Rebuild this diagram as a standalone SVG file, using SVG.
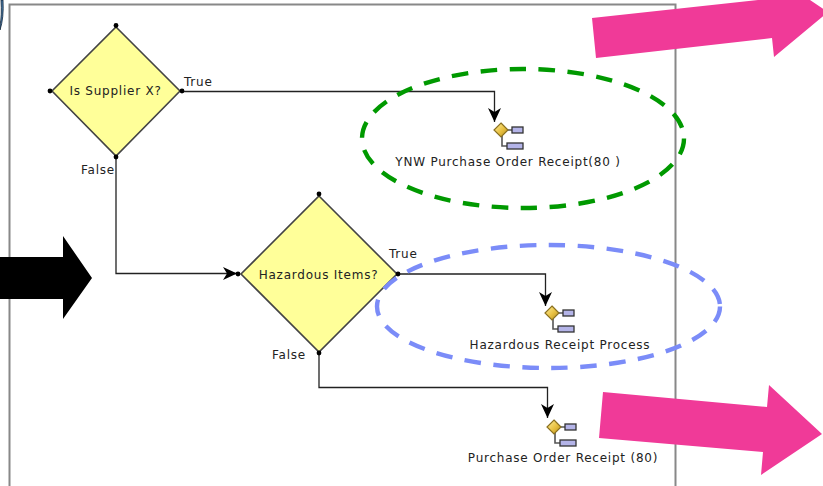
<svg xmlns="http://www.w3.org/2000/svg" width="823" height="486" viewBox="0 0 823 486">
<style>
text{font-family:"DejaVu Sans","Liberation Sans",sans-serif;font-size:12px;fill:#222;letter-spacing:.77px}
.mid{text-anchor:middle}
.dec{fill:#ffff99;stroke:#444;stroke-width:1.6}
.hd{fill:#000}
.conn{fill:none;stroke:#222;stroke-width:1.3}
.ic-l{fill:none;stroke:#555;stroke-width:1.6}
.ic-d{fill:url(#gold);stroke:#8a7020;stroke-width:1.2}
.ic-r{fill:#b4b4e8;stroke:#333;stroke-width:1.3}
.oval{fill:none;stroke-width:4.400;stroke-dasharray:16.500 12.500}
.pink{fill:#f03a98}
</style>
<defs>
<linearGradient id="gold" x1="0" y1="0" x2="1" y2="1"><stop offset="0" stop-color="#fff0a0"/><stop offset=".55" stop-color="#e8c040"/><stop offset="1" stop-color="#b08a20"/></linearGradient>
<marker id="ah" markerUnits="userSpaceOnUse" markerWidth="16" markerHeight="14" refX="14" refY="7" orient="auto">
<path d="M0 .5L14 7L0 13.500L4 7Z" fill="#000"/>
</marker>
<g id="ic">
<path class="ic-l" d="M0 0H14M1 0V16H8"/>
<path class="ic-d" d="M0 -7L7 0L0 7L-7 0Z"/>
<rect class="ic-r" x="11" y="-3" width="11" height="6"/>
<rect class="ic-r" x="6" y="13" width="16" height="6"/>
</g>
</defs>
<rect width="823" height="486" fill="#fff"/>
<path d="M0 30Q4 18 3 0H1Q2 16 0 25Z" fill="#4a7fb0" stroke="#123" stroke-width="0.8"/>
<path id="frame" d="M9.500 486V4.500H675.500V486" fill="none" stroke="#888" stroke-width="2"/>
<g id="connectors">
<path class="conn" marker-end="url(#ah)" d="M182 91.500H494.500V122"/>
<path class="conn" marker-end="url(#ah)" d="M116 157V273.500H237"/>
<path class="conn" marker-end="url(#ah)" d="M398 274H545.500V306"/>
<path class="conn" marker-end="url(#ah)" d="M319 353V387.500H547.500V418"/>
<text x="184" y="86">True</text>
<text x="81" y="174">False</text>
<text x="389" y="258">True</text>
<text x="272" y="359">False</text>
</g>
<g id="n-supplier">
<path class="dec" d="M116 27L180 91L116 156L52 91Z"/>
<g class="hd"><circle cx="116" cy="25.500" r="2.400"/><circle cx="50" cy="91" r="2.400"/><circle cx="182" cy="91" r="2.400"/><circle cx="116" cy="157" r="2.400"/></g>
<text class="mid" x="115.500" y="95">Is Supplier X?</text>
</g>
<g id="n-hazardous">
<path class="dec" d="M319 196L397 274L319 352L241 274Z"/>
<g class="hd"><circle cx="319" cy="194" r="2.400"/><circle cx="238" cy="274" r="2.400"/><circle cx="398" cy="274" r="2.400"/><circle cx="319" cy="353" r="2.400"/></g>
<text class="mid" x="318.500" y="279">Hazardous Items?</text>
</g>
<g id="n-ynw"><use href="#ic" x="501" y="130"/><text class="mid" x="508" y="166">YNW Purchase Order Receipt(80 )</text></g>
<g id="n-hrp"><use href="#ic" x="552" y="313"/><text class="mid" x="560" y="349">Hazardous Receipt Process</text></g>
<g id="n-por"><use href="#ic" x="554" y="427"/><text class="mid" x="563" y="462">Purchase Order Receipt (80)</text></g>
<ellipse class="oval" cx="523" cy="138.500" rx="161" ry="69.500" stroke="#009900"/>
<ellipse class="oval" cx="548.500" cy="306.500" rx="171.500" ry="61.500" stroke="#7b8cf8"/>
<path d="M0 257H63V236L92 278L63 319V299H0Z" fill="#000"/>
<path class="pink" d="M592 18L758 0H810L828 12L774 57L772 38L596 58Z"/>
<path class="pink" d="M603 392L767 407L769 385L822 434L761 475L763 452L599 438Z"/>
</svg>
